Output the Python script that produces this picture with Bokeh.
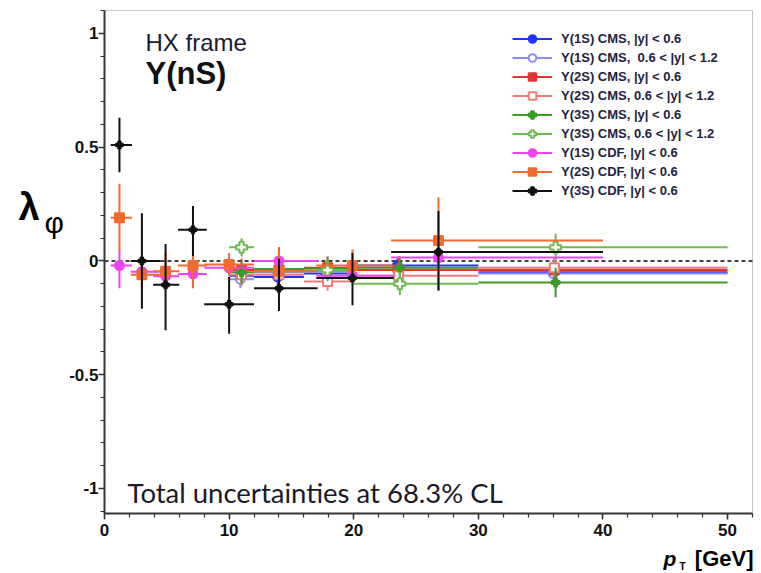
from bokeh.plotting import figure
from bokeh.models import (ColumnDataSource, Legend, LegendItem, Label, BoxAnnotation,
                          SingleIntervalTicker, CustomJSTickFormatter, Range1d, LinearAxis)
from bokeh.core.properties import value
from bokeh.embed import file_html
from bokeh.resources import INLINE

# ---------------- data ----------------
# CDF (|y| < 0.6)
cdf_pt = [1.2, 3.0, 4.9, 7.1, 10.0, 14.0, 19.9, 26.8]
cdf_pt_lo = [0.5, 2.1, 3.9, 5.9, 8.0, 12.0, 17.0, 23.0]
cdf_pt_hi = [2.2, 4.5, 6.0, 8.2, 12.0, 17.1, 23.2, 40.0]

cdf_3s_lam = [0.51, 0.0, -0.105, 0.137, -0.19, -0.12, -0.075, 0.04]
cdf_3s_elo = [0.12, 0.21, 0.20, 0.115, 0.13, 0.10, 0.12, 0.17]
cdf_3s_ehi = [0.12, 0.21, 0.18, 0.105, 0.12, 0.13, 0.11, 0.18]

cdf_2s_lam = [0.19, -0.06, -0.045, -0.02, -0.015, -0.045, -0.02, 0.09]
cdf_2s_elo = [0.145, 0.06, 0.08, 0.10, 0.05, 0.08, 0.07, 0.22]
cdf_2s_ehi = [0.15, 0.06, 0.08, 0.10, 0.05, 0.10, 0.07, 0.19]

cdf_1s_lam = [-0.02, -0.047, -0.067, -0.057, -0.03, 0.0, -0.065, 0.015]
cdf_1s_elo = [0.10, 0.03, 0.03, 0.05, 0.03, 0.04, 0.03, 0.02]
cdf_1s_ehi = [0.07, 0.03, 0.03, 0.05, 0.03, 0.04, 0.03, 0.02]

# CMS
cms_pt_lo = [10, 12, 16, 20, 30]
cms_pt_hi = [12, 16, 20, 30, 50]
cms_1s_pt = [10.9, 13.9, 17.8, 23.5, 36.0]
cms_2s_pt = [11.0, 14.0, 17.9, 23.6, 36.1]
cms_3s_pt = [11.0, 14.0, 17.9, 23.7, 36.2]

cms_1s_y06_lam = [-0.065, -0.07, -0.055, -0.02, -0.05]
cms_1s_y06_err = [0.03, 0.03, 0.03, 0.03, 0.03]
cms_1s_y12_lam = [-0.08, -0.05, -0.045, -0.04, -0.055]
cms_1s_y12_err = [0.04, 0.03, 0.03, 0.03, 0.03]
cms_2s_y06_lam = [-0.04, -0.04, -0.03, -0.04, -0.04]
cms_2s_y06_err = [0.05, 0.10, 0.05, 0.06, 0.05]
cms_2s_y12_lam = [-0.06, -0.06, -0.09, -0.065, -0.03]
cms_2s_y12_err = [0.05, 0.06, 0.04, 0.05, 0.04]
cms_3s_y06_lam = [-0.05, -0.035, -0.035, -0.03, -0.095]
cms_3s_y06_err = [0.05, 0.06, 0.05, 0.05, 0.065]
cms_3s_y12_lam = [0.06, -0.045, -0.04, -0.10, 0.06]
cms_3s_y12_err = [0.04, 0.06, 0.05, 0.05, 0.06]

labels = [
    "\u03a5(1S) CMS, |y| < 0.6",
    "\u03a5(1S) CMS,  0.6 < |y| < 1.2",
    "\u03a5(2S) CMS, |y| < 0.6",
    "\u03a5(2S) CMS, 0.6 < |y| < 1.2",
    "\u03a5(3S) CMS, |y| < 0.6",
    "\u03a5(3S) CMS, 0.6 < |y| < 1.2",
    "\u03a5(1S) CDF, |y| < 0.6",
    "\u03a5(2S) CDF, |y| < 0.6",
    "\u03a5(3S) CDF, |y| < 0.6",
]

# axis extents of the drawn box
x_min, x_max = 0.0, 52.0
y_min, y_max = -1.11, 1.101

# ---------------- figure ----------------
W, H = 761, 573
box_l, box_r, box_t, box_b = 104, 752, 10, 513   # pixel box of the axes frame
sx = (box_r - box_l) / (x_max - x_min)
sy = (box_b - box_t) / (y_max - y_min)

p = figure(width=W, height=H, output_backend="svg", toolbar_location=None,
           x_axis_location=None, y_axis_location=None,
           x_range=Range1d(x_min - box_l / sx, x_max + (W - box_r) / sx),
           y_range=Range1d(y_min - (H - box_b) / sy, y_max + box_t / sy),
           min_border=0, min_border_left=0, min_border_right=0,
           min_border_top=0, min_border_bottom=0)
p.xgrid.visible = False
p.ygrid.visible = False
p.outline_line_color = None
p.background_fill_color = "white"
p.border_fill_color = "white"

p.add_layout(BoxAnnotation(left=x_min, right=x_max, bottom=y_min, top=y_max,
                           fill_alpha=0, line_color="#444444", line_width=1))

xaxis = LinearAxis(fixed_location=y_min, bounds=(x_min, x_max),
                   ticker=SingleIntervalTicker(interval=10, num_minor_ticks=5))
yaxis = LinearAxis(fixed_location=x_min, bounds=(y_min, y_max),
                   ticker=SingleIntervalTicker(interval=0.5, num_minor_ticks=5),
                   formatter=CustomJSTickFormatter(code="return String(Math.round(tick*10)/10)"))
for ax in (xaxis, yaxis):
    ax.axis_line_color = "#333333"
    ax.axis_line_width = 2
    ax.major_tick_line_color = "#333333"
    ax.minor_tick_line_color = "#333333"
    ax.major_tick_line_width = 1.5
    ax.minor_tick_line_width = 1.2
    ax.major_tick_in = 0
    ax.major_tick_out = 6
    ax.minor_tick_in = 0
    ax.minor_tick_out = 4
    ax.major_label_text_font = "Liberation Sans"
    ax.major_label_text_font_style = "bold"
    ax.major_label_text_font_size = "17px"
    ax.major_label_text_color = "#111111"
xaxis.major_label_standoff = 4
yaxis.major_label_standoff = 0
p.add_layout(xaxis, "below")
p.add_layout(yaxis, "left")

# dashed zero line across the frame
zero_src = ColumnDataSource(dict(x=[x_min, x_max], y=[0, 0]))
p.line(x="x", y="y", source=zero_src, line_color="black", line_dash="4 3", line_width=1.5)

items = []


def add_series(pt, lo, hi, lam, elo, ehi, color, marker, size, fill, label, lw=2):
    src = ColumnDataSource(dict(
        pt=pt, lo=lo, hi=hi, lam=lam,
        ylo=[l - e for l, e in zip(lam, elo)],
        yhi=[l + e for l, e in zip(lam, ehi)]))
    xr = p.segment(x0="lo", y0="lam", x1="hi", y1="lam", source=src,
                   line_color=color, line_width=lw)
    p.segment(x0="pt", y0="ylo", x1="pt", y1="yhi", source=src,
              line_color=color, line_width=lw)
    sc = p.scatter(x="pt", y="lam", source=src, marker=marker, size=size,
                   fill_color=fill, line_color=color, line_width=2)
    items.append(LegendItem(label=value(label), renderers=[xr, sc]))


add_series(cms_1s_pt, cms_pt_lo, cms_pt_hi, cms_1s_y06_lam, cms_1s_y06_err, cms_1s_y06_err,
           "#2233ff", "circle", 9, "#2233ff", labels[0])
add_series(cms_1s_pt, cms_pt_lo, cms_pt_hi, cms_1s_y12_lam, cms_1s_y12_err, cms_1s_y12_err,
           "#8c8cf5", "circle", 9, "white", labels[1])
add_series(cms_2s_pt, cms_pt_lo, cms_pt_hi, cms_2s_y06_lam, cms_2s_y06_err, cms_2s_y06_err,
           "#e8332e", "square", 9, "#e8332e", labels[2])
add_series(cms_2s_pt, cms_pt_lo, cms_pt_hi, cms_2s_y12_lam, cms_2s_y12_err, cms_2s_y12_err,
           "#f07a7a", "square", 9, "white", labels[3])
add_series(cms_3s_pt, cms_pt_lo, cms_pt_hi, cms_3s_y06_lam, cms_3s_y06_err, cms_3s_y06_err,
           "#3c9a28", "plus", 8, "#3c9a28", labels[4])
add_series(cms_3s_pt, cms_pt_lo, cms_pt_hi, cms_3s_y12_lam, cms_3s_y12_err, cms_3s_y12_err,
           "#6cbb50", "plus", 11, "white", labels[5])
add_series(cdf_pt, cdf_pt_lo, cdf_pt_hi, cdf_1s_lam, cdf_1s_elo, cdf_1s_ehi,
           "#ee44ee", "circle", 9, "#ee44ee", labels[6])
add_series(cdf_pt, cdf_pt_lo, cdf_pt_hi, cdf_2s_lam, cdf_2s_elo, cdf_2s_ehi,
           "#f26a30", "square", 9, "#f26a30", labels[7])
add_series(cdf_pt, cdf_pt_lo, cdf_pt_hi, cdf_3s_lam, cdf_3s_elo, cdf_3s_ehi,
           "#111111", "plus", 7, "#111111", labels[8])

legend = Legend(items=items, location=(512, 373), orientation="vertical",
                glyph_width=40, glyph_height=19, label_height=19, spacing=0,
                padding=0, margin=0, label_standoff=9,
                label_text_font="Liberation Sans", label_text_font_style="bold",
                label_text_font_size="13px", label_text_color="#222244",
                border_line_alpha=0, background_fill_alpha=0)
p.add_layout(legend)


# ---------------- texts (screen units: from canvas bottom-left) ----------------
def lab(x, y, text, size, font="Liberation Sans", style="normal", color="black", align="left"):
    p.add_layout(Label(x=x, y=H - y, x_units="screen", y_units="screen", text=text,
                       text_font=font, text_font_style=style, text_font_size=size,
                       text_color=color, text_baseline="alphabetic", text_align=align))


lab(145, 42, "HX frame", "24px", color="#1a1a33")
lab(145, 73, "\u03a5(nS)", "31px", style="bold", color="#111111")
lab(127, 492, "Total uncertainties at 68.3% CL", "27.5px", font="Lato", color="#1a1a2a")
# y axis title
lab(18, 206, "\u03bb", "38px", style="bold")
lab(44, 222, "\u03c6", "30px")
# x axis title
lab(663, 558, "p", "21px", style="bold italic")
lab(679, 566, "T", "10px", style="bold")
lab(753, 558, "[GeV]", "22px", style="bold", align="right")

open("out.html", "w").write(file_html(p, INLINE))
